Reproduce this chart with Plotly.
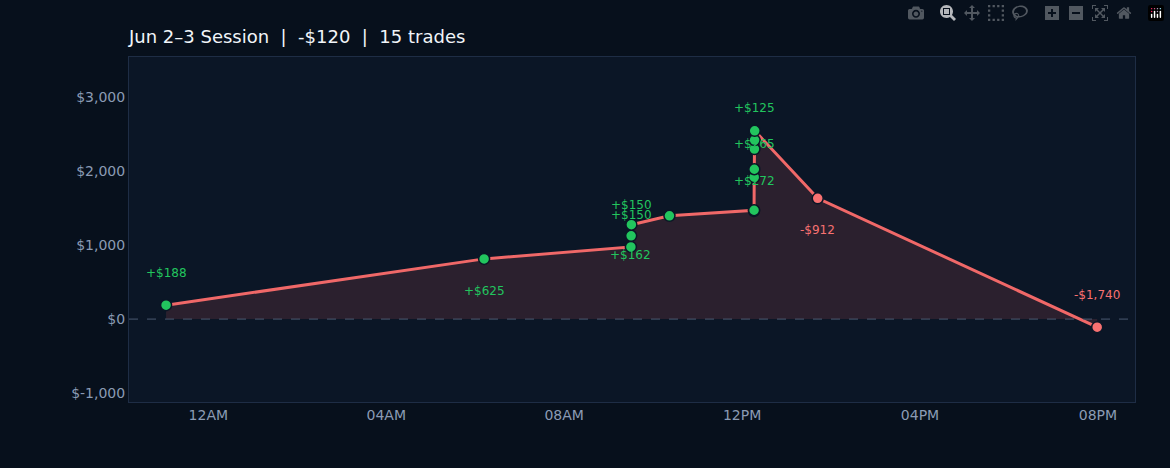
import plotly.graph_objects as go
import numpy as np

# trade close times and P&L per trade
times = ["2024-06-02 23:03", "2024-06-03 06:12", "2024-06-03 09:30:00", "2024-06-03 09:30:20",
         "2024-06-03 09:30:40", "2024-06-03 10:22", "2024-06-03 12:16:00", "2024-06-03 12:16:10",
         "2024-06-03 12:16:20", "2024-06-03 12:16:30", "2024-06-03 12:16:40", "2024-06-03 12:16:50",
         "2024-06-03 12:17:00", "2024-06-03 13:42", "2024-06-03 19:59"]
pnl = [188, 625, 162, 150, 150, 120, 65, 10, 446, 108, 272, 122, 125, -912, -1740]
labels = ["+$188", "+$625", "+$162", "+$150", "+$150", "", "", "", "", "", "+$272", "+$265", "+$125", "-$912", "-$1,740"]
label_shift = [32, -32, -8, 21, 20, 0, 0, 0, 0, 0, -32, -4, 23, -32, 32]

y_ticks = [-1000, 0, 1000, 2000, 3000]
y_tick_text = ["$-1,000", "$0", "$1,000", "$2,000", "$3,000"]

cum = np.cumsum(pnl)
GREEN, RED = "#22c55e", "#f87171"
colors = [GREEN if p > 0 else RED for p in pnl]

fig = go.Figure()
fig.add_trace(go.Scatter(
    x=times, y=cum, mode="lines+markers", fill="tozeroy",
    fillcolor="rgba(240,100,100,0.14)",
    line=dict(color="#f06868", width=3),
    marker=dict(size=11, color=colors, line=dict(color="#0b1626", width=1.5)),
    hoverinfo="skip", showlegend=False))

for t, y, lab, sh, c in zip(times, cum, labels, label_shift, colors):
    if lab:
        fig.add_annotation(x=t, y=y, text=lab, showarrow=False, yshift=sh,
                           font=dict(color=c, size=12))

fig.add_hline(y=0, line=dict(color="#4b5a70", width=1, dash="dash"))

fig.update_layout(
    width=1170, height=468,
    paper_bgcolor="#07101c", plot_bgcolor="#0b1626",
    margin=dict(l=129, r=35, t=57, b=66),
    font=dict(family="DejaVu Sans", color="#8b9bb4", size=14),
    title=dict(text="Jun 2–3 Session  |  -$120  |  15 trades", x=129/1170, xanchor="left",
               y=1 - 37/468, yanchor="middle", font=dict(color="#f1f5f9", size=18)),
    xaxis=dict(type="date", range=["2024-06-02 22:13", "2024-06-03 20:50"],
               tickformat="%I%p", dtick=4 * 3600 * 1000, tick0="2024-06-03 00:00",
               showgrid=False, zeroline=False, showline=True, linecolor="#1e2d45", mirror=True),
    yaxis=dict(range=[-1120, 3540], tickvals=y_ticks, ticktext=y_tick_text,
               showgrid=False, zeroline=False, showline=True, linecolor="#1e2d45", mirror=True),
)
fig.write_html("out.html", post_script="document.body.style.margin='0';document.body.style.background='#07101c';")
